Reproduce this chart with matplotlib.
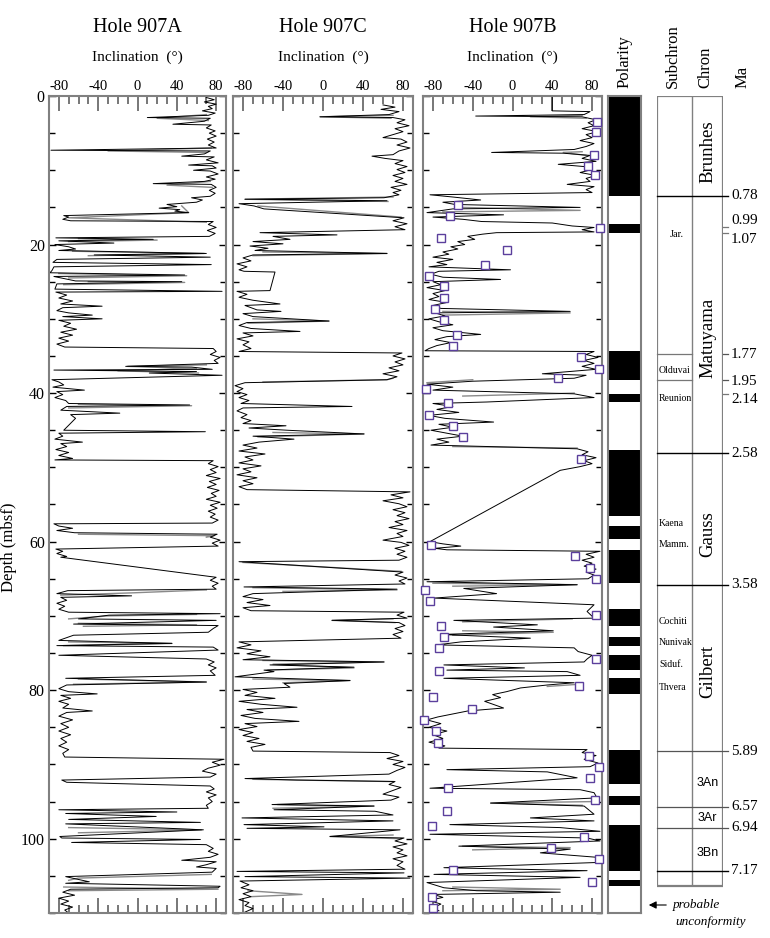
import numpy as np
import matplotlib
matplotlib.use('Agg')
import matplotlib.pyplot as plt

plt.rcParams['font.family'] = ['Liberation Serif', 'DejaVu Serif']
plt.rcParams['axes.unicode_minus'] = False

# inclination records (depth mbsf, inclination deg)
hole_a = [(0.2, 70), (0.5, 78), (0.8, 68), (1.1, 80), (1.4, 72), (1.7, 76), (2.0, 66), (2.3, 79), (2.6, 72),
          (2.9, 10), (3.0, 74), (3.4, 68), (3.8, 36), (3.9, 75), (4.3, 70), (4.7, 79), (5.0, 73), (5.4, 80),
          (5.8, 71), (6.2, 78), (6.6, 72), (7.0, 80), (7.3, -88), (7.4, 74), (7.8, 68), (8.1, 45), (8.2, 78),
          (8.6, 70), (9.0, 82), (9.3, 52), (9.4, 76), (9.7, 80), (10.0, 57), (10.1, 74), (10.5, 82), (10.9, 70),
          (11.2, 79), (11.5, 68), (11.8, 16), (11.9, 75), (12.3, 80), (12.7, 73), (13.1, 79), (13.5, 74),
          (13.7, 55), (14.0, 66), (14.3, 60), (14.6, 30), (14.9, 40), (15.1, 22), (15.3, 43), (15.5, 38),
          (15.7, 52), (16.1, -75), (16.3, -70), (16.6, -76), (16.8, -68), (16.9, 77), (17.3, 72), (17.7, 80),
          (18.1, 71), (18.5, 79), (18.9, 73), (19.1, -83), (19.3, 16), (19.5, -80), (19.8, -24), (20.0, -84),
          (20.3, -70), (20.6, -63), (20.8, -80), (21.2, 70), (21.4, -44), (21.7, 74), (22.0, -82), (22.4, -86),
          (22.7, 75), (23.0, -85), (23.5, -87), (23.8, -89), (24.1, 48), (24.3, -85), (24.9, -63), (25.0, 45),
          (25.3, -82), (26.0, -84), (26.3, 86), (26.4, -83), (26.8, -72), (27.2, -80), (27.6, -66), (28.0, -78),
          (28.3, -36), (28.5, -76), (28.9, -82), (29.2, -70), (29.5, -46), (29.7, -76), (30.0, -36), (30.2, -80),
          (30.6, -68), (31.0, -75), (31.4, -62), (31.8, -78), (32.2, -66), (32.6, -80), (33.0, -70), (33.4, -82),
          (33.8, -74), (34.0, 77), (34.4, 80), (34.8, 74), (35.2, 84), (35.6, 78), (36.0, 82), (36.4, -12),
          (36.5, 55), (36.8, 76), (36.9, -85), (37.1, 60), (37.3, 12), (37.6, 86), (38.2, -87), (38.5, -80),
          (38.9, -75), (39.2, -86), (39.6, -54), (39.8, -82), (40.2, -76), (40.6, -84), (41.0, -73), (41.4, -70),
          (41.6, 53), (41.8, -72), (42.3, -78), (42.7, -18), (42.9, -68), (43.4, -63), (45.0, -75), (45.2, 69),
          (45.4, -80), (45.8, -76), (46.2, -84), (46.6, -56), (46.8, -78), (47.2, -72), (47.6, -83), (48.0, -70),
          (48.4, -80), (48.8, -66), (49.0, -84), (49.1, 77), (49.5, 72), (49.9, 82), (50.3, 74), (50.7, 80),
          (51.1, 70), (51.5, 84), (51.9, 73), (52.3, 80), (52.7, 71), (53.1, 83), (53.5, 75), (53.9, 80),
          (54.3, 70), (54.7, 84), (55.1, 74), (55.5, 81), (55.9, 72), (56.3, 79), (56.7, 74), (57.1, 82),
          (57.5, 76), (57.6, -85), (57.9, -80), (58.2, -66), (58.5, -82), (58.8, -64), (59.0, 81), (59.4, 74),
          (59.8, 84), (60.2, 76), (60.6, 82), (61.0, -83), (61.3, -76), (61.6, -82), (62.0, -72), (62.1, -78),
          (64.8, 80), (65.2, 74), (65.6, 82), (66.0, 76), (66.4, 80), (66.6, -71), (67.0, -82), (67.3, -6),
          (67.5, -78), (67.9, -72), (68.3, -82), (68.7, -74), (69.1, -80), (69.5, -70), (69.7, 84), (69.9, -29),
          (70.4, -60), (70.6, 80), (71.1, -65), (71.3, 82), (71.7, 77), (72.2, 72), (72.6, -65), (73.3, -80),
          (73.7, 35), (74.0, -82), (74.2, 77), (74.6, 82), (75.3, -80), (75.8, 70), (76.2, 78), (76.6, 72),
          (77.0, 80), (77.4, 74), (78.0, 79), (78.4, -73), (78.9, 70), (79.3, -72), (79.8, -80), (80.2, -70),
          (80.5, -41), (80.7, -78), (81.1, -68), (81.5, -80), (81.9, -70), (82.4, -76), (82.8, -46), (83.0, -72),
          (83.5, -80), (84.0, -66), (84.5, -78), (85.0, -70), (85.5, -80), (86.0, -68), (86.5, -78), (87.0, -72),
          (87.5, -80), (88.0, -70), (88.5, -76), (89.0, -74), (89.3, 88), (89.7, 76), (90.1, 84), (90.5, 72),
          (90.9, 66), (91.3, 80), (91.7, 74), (92.1, -77), (92.4, -72), (92.9, 74), (93.3, 78), (93.7, 70),
          (94.1, 80), (94.5, 72), (95.0, 76), (95.5, 70), (95.9, 72), (96.1, -80), (96.4, 40), (96.6, -73),
          (97.0, 19), (97.4, -70), (97.8, 64), (98.0, -73), (98.8, 67), (99.7, -79), (99.9, -77), (100.1, 64),
          (100.5, -67), (100.8, 70), (101.3, 77), (101.7, 72), (102.1, 82), (102.5, 74), (102.9, 45), (103.1, 80),
          (103.5, 70), (103.8, 60), (104.0, 80), (104.5, 76), (105.1, -73), (105.4, -63), (105.8, -49), (106.0, -73),
          (106.4, 84), (106.6, 82), (106.8, -68), (107.2, -76), (107.6, -64), (108.0, -80), (108.4, -70),
          (108.8, -78), (109.2, -66), (109.6, -74), (110.0, -70)]

hole_c = [(1.2, 60), (1.5, 72), (1.8, 58), (2.1, 76), (2.5, 66), (2.8, -3), (2.9, 70), (3.2, 82), (3.6, 74),
          (4.0, 86), (4.4, 72), (4.8, 80), (5.2, 70), (5.6, 60), (5.8, 78), (6.2, 84), (6.6, 74), (7.0, 87),
          (7.4, 76), (7.9, 70), (8.1, 49), (8.4, 62), (8.7, 80), (9.1, 72), (9.5, 84), (9.9, 74), (10.3, 82),
          (10.7, 70), (11.1, 80), (11.5, 72), (11.9, 84), (12.3, 68), (12.7, 78), (13.0, 70), (13.3, 76),
          (13.7, 61), (13.9, -78), (14.1, 64), (14.5, -84), (14.8, -69), (15.2, -59), (16.4, 81), (16.8, 70),
          (17.2, 84), (17.6, 72), (18.0, 82), (18.4, -63), (18.7, 14), (18.9, -50), (19.3, -33), (19.6, -70),
          (19.9, -40), (20.2, -73), (20.5, -55), (20.8, -68), (21.2, 64), (21.4, -70), (21.8, -80), (22.2, -72),
          (22.6, -86), (23.0, -76), (23.4, -84), (23.6, -79), (23.7, -48), (26.2, -53), (26.3, -86), (26.7, -76),
          (27.1, -84), (27.5, -70), (28.0, -43), (28.2, -78), (28.8, -66), (29.0, -42), (29.3, -80), (29.7, -70),
          (30.3, 6), (30.5, -76), (30.9, -84), (31.3, -72), (31.7, -23), (31.9, -80), (32.3, -70), (32.7, -86),
          (33.1, -74), (33.5, -80), (34.0, -72), (34.4, -84), (34.6, 79), (35.0, 70), (35.4, 82), (35.8, 72),
          (36.2, 80), (36.6, 66), (37.0, 76), (37.4, 60), (37.8, 74), (38.2, 64), (38.6, -78), (39.0, -88),
          (39.4, -80), (39.8, -86), (40.2, -76), (40.6, -84), (41.0, -74), (41.4, -82), (41.8, 29), (42.0, -80),
          (42.4, -86), (42.9, -76), (43.3, -82), (43.7, -72), (44.1, -80), (44.4, -37), (44.7, -74), (45.0, -36),
          (45.5, 41), (45.8, -70), (46.2, -29), (46.6, -64), (47.0, -80), (47.4, -66), (47.8, -84), (48.2, -58),
          (48.6, -78), (49.0, -70), (49.4, -84), (49.8, -62), (50.2, -80), (50.6, -72), (51.0, -86), (51.4, -66),
          (51.8, -80), (52.2, -70), (52.6, -84), (53.0, -76), (53.3, 87), (53.7, 68), (54.1, 80), (54.5, 60),
          (54.9, 76), (55.3, 84), (55.7, 70), (56.1, 82), (56.5, 74), (56.9, 86), (57.3, 72), (57.7, 80),
          (58.1, 66), (58.5, 84), (58.9, 74), (59.3, 80), (59.8, 60), (60.1, 78), (60.5, 86), (60.9, 72),
          (61.3, 82), (61.7, 74), (62.1, 84), (62.5, 76), (62.7, -84), (64.1, 80), (64.5, 72), (64.9, 84),
          (65.3, 76), (65.7, 82), (66.1, -79), (66.4, 74), (66.8, -24), (67.0, -70), (67.4, -80), (67.8, -60),
          (68.2, -76), (68.6, -53), (68.9, -80), (69.3, -72), (69.5, 81), (69.9, 74), (70.3, 84), (70.6, 9),
          (70.9, 76), (71.3, 82), (71.7, 72), (72.1, 80), (72.5, 70), (73.0, 78), (73.5, -84), (73.9, -72),
          (74.3, -86), (74.7, -62), (75.1, -76), (75.5, -53), (75.9, -80), (76.2, 61), (76.6, -53), (76.9, 31),
          (77.3, -59), (77.5, -49), (78.2, -88), (78.7, 27), (79.1, -39), (79.6, -33), (79.9, -80), (80.3, -66),
          (80.7, -78), (81.1, -48), (81.5, -84), (81.9, -62), (82.3, -26), (82.6, -76), (83.0, -60), (83.4, -82),
          (83.8, -68), (84.2, -24), (84.5, -78), (84.9, -66), (85.3, -84), (85.7, -70), (86.1, -80), (86.5, -64),
          (86.9, -76), (87.3, -58), (87.7, -72), (88.2, -70), (88.4, 67), (88.8, 76), (89.2, 64), (89.6, 80),
          (90.0, 70), (90.4, 82), (90.8, 74), (91.3, 66), (91.9, -78), (92.1, -26), (92.3, 72), (92.7, 66),
          (93.1, 78), (93.5, 70), (94.0, 60), (94.4, 76), (94.8, 68), (95.4, -51), (95.6, 51), (96.1, -49),
          (96.3, 52), (96.8, 70), (97.2, -81), (97.6, 70), (98.1, -79), (98.4, 1), (98.6, -76), (98.8, 77),
          (99.7, 7), (99.9, 81), (100.3, 72), (100.7, 84), (101.1, 70), (101.5, 80), (101.9, 74), (102.3, 84),
          (102.7, 70), (103.1, 80), (103.6, 74), (104.1, 82), (104.4, -86), (104.6, 81), (105.1, -78), (105.3, 87),
          (105.7, -83), (106.2, -74), (106.6, -82), (107.0, -70), (107.4, -80), (107.8, -72), (108.2, -84),
          (108.6, -74), (109.0, -78), (109.4, -70), (110.0, -80)]

hole_b = [(0.0, 40), (2.0, 40), (2.1, 78), (2.5, 72), (2.7, -37), (2.8, 70), (3.2, 84), (3.6, 76), (4.0, 82),
          (4.4, 70), (4.8, 86), (5.2, 74), (5.6, 80), (6.0, 68), (6.4, 82), (6.8, 74), (7.2, 62), (7.6, -21),
          (7.7, 51), (8.0, 78), (8.4, 70), (8.8, 84), (9.2, 46), (9.5, 72), (9.9, 80), (10.3, 68), (10.7, 84),
          (11.1, 74), (11.5, 78), (11.9, 55), (12.2, 82), (12.6, 74), (13.0, 80), (13.3, -83), (13.6, -60),
          (14.0, -32), (14.3, -70), (14.6, -58), (15.0, 68), (15.2, -60), (15.7, -86), (16.0, -9), (16.3, -80),
          (16.6, -50), (16.9, -31), (17.1, 40), (17.5, 60), (17.7, 82), (18.0, 70), (18.3, 82), (18.4, -16),
          (18.6, -30), (18.9, -45), (19.3, -38), (19.6, -55), (20.0, -48), (20.3, -62), (20.6, -55), (21.0, -70),
          (21.3, -64), (21.7, -80), (22.0, -60), (22.4, -76), (22.7, -66), (23.0, -84), (23.4, -2), (23.6, -74),
          (24.0, -82), (24.4, -70), (24.7, -12), (25.0, -80), (25.4, -72), (25.8, -86), (26.2, -68), (26.6, -80),
          (27.0, -74), (27.4, -84), (27.8, -66), (28.2, -80), (28.6, -72), (29.0, 58), (29.2, -78), (29.6, -68),
          (30.0, -84), (30.4, -74), (30.8, -60), (31.2, -80), (31.6, -70), (32.1, -32), (32.4, -66), (32.8, -78),
          (33.2, -62), (33.6, -76), (34.0, -84), (34.3, -88), (34.4, 82), (34.8, 74), (35.2, 86), (35.6, 72),
          (36.0, 82), (36.4, 70), (36.8, 84), (37.4, 30), (37.6, 74), (38.0, 62), (38.4, -40), (38.8, -86),
          (39.2, -60), (39.6, -80), (40.1, 62), (40.6, 82), (41.2, -26), (41.4, -80), (41.8, -60), (42.2, -76),
          (42.6, -54), (43.0, -84), (43.4, -68), (43.9, -19), (44.2, -74), (44.6, -60), (45.0, -82), (45.4, -66),
          (45.8, -50), (46.2, -76), (46.6, -64), (47.0, -82), (47.5, 65), (47.9, 76), (48.3, 70), (48.7, 84),
          (49.1, 72), (49.5, 80), (49.9, 68), (50.4, 48), (60.0, -83), (60.3, -70), (60.6, -52), (60.9, -78),
          (61.1, -66), (61.3, 88), (61.7, 74), (62.1, 82), (62.5, 70), (62.9, 80), (63.3, 72), (63.7, 84),
          (64.1, 74), (64.5, 82), (65.0, 76), (65.4, -86), (65.8, 65), (66.3, -49), (67.0, -16), (67.6, -79),
          (68.5, 82), (69.4, 75), (70.3, 82), (70.6, -59), (71.2, 25), (71.5, -19), (72.0, 41), (72.5, -72),
          (73.0, 18), (73.5, -52), (73.9, -76), (74.3, 62), (74.8, 66), (75.3, 80), (75.8, 75), (76.2, 72),
          (76.6, -69), (77.0, 12), (77.3, -66), (77.5, 55), (78.0, 68), (78.4, -69), (79.0, 62), (79.3, 35),
          (79.7, 8), (80.2, -6), (80.6, -20), (81.0, -12), (81.5, -28), (82.4, -9), (82.8, -45), (83.2, -60),
          (83.6, -75), (84.0, -86), (84.5, -72), (85.0, -84), (85.5, -66), (86.0, -80), (86.5, -70), (87.0, -84),
          (87.5, -68), (87.8, -74), (88.0, 75), (88.4, 70), (88.8, 84), (89.3, 72), (89.8, 86), (90.3, 78),
          (90.7, -66), (91.0, 35), (91.8, 65), (92.5, -9), (93.2, -83), (93.4, 68), (93.8, 82), (94.5, 85),
          (95.2, -22), (95.6, 72), (96.7, 82), (97.2, 18), (97.6, 82), (98.1, -63), (98.5, 48), (99.0, 88),
          (99.4, -83), (99.9, 75), (100.3, 88), (101.0, -54), (101.4, 58), (101.9, 28), (102.5, 85), (103.2, 85),
          (103.9, -69), (104.3, 75), (104.8, -79), (105.2, 68), (105.9, -86), (106.6, -69), (107.0, -36),
          (107.2, 48), (107.5, -79), (107.9, -70), (108.3, -84), (108.8, -72), (109.3, -80), (109.7, -74)]

# second (grey) measurement: short runs, mostly the long excursions
grey_a = [[(2.5, 70), (3.0, 20), (3.3, 72)], [(7.0, 75), (7.4, -30), (7.6, 70)],
          [(11.5, 74), (12.0, 30), (12.3, 76)], [(14.8, 45), (15.7, 52), (16.4, -70), (17.0, 70)],
          [(19.2, -60), (19.4, 20), (19.6, -70)], [(20.9, -66), (21.2, 68), (21.5, -50)],
          [(23.9, -80), (24.2, 50), (24.5, -70)], [(25.0, -50), (25.1, 48), (25.4, -75)],
          [(36.2, 70), (36.4, -10), (36.7, 60), (37.0, -20), (37.3, 62)], [(41.5, -60), (41.7, 55), (42.0, -70)],
          [(59.0, -60), (59.2, 78), (59.4, 70)], [(66.5, 70), (66.9, -6), (67.2, -78)],
          [(69.8, 60), (70.0, -30), (70.4, -70)], [(71.0, -60), (71.2, 60), (71.4, -55)],
          [(73.5, -70), (73.7, 35), (74.0, -75)], [(78.5, -60), (78.9, 70), (79.2, -65)],
          [(98.5, -70), (98.8, 65), (99.2, -60)], [(104.8, 75), (105.3, -60), (105.6, -70)],
          [(106.5, -75), (106.8, 82), (107.0, -70)]]
grey_c = [[(2.6, 70), (2.8, -3), (3.0, 68)], [(13.6, 70), (13.9, -78), (14.2, 65)], [(14.8, -65), (16.3, 78)],
          [(21.0, -60), (21.2, 64), (21.5, -70)], [(30.0, -70), (30.3, 6), (30.6, -75)],
          [(38.0, 70), (38.2, 64), (38.5, -60)], [(45.3, -50), (45.5, 41), (45.9, -65)],
          [(62.8, -80), (64.0, 78)], [(66.2, -70), (66.5, 74), (66.7, -40)], [(70.4, 70), (70.6, 9), (70.9, 72)],
          [(76.0, -60), (76.2, 61), (76.5, -50), (77.0, 31), (77.3, -55)], [(78.5, -70), (78.7, 27), (79.0, -40)],
          [(92.0, -70), (92.1, -26), (92.3, 70)], [(95.4, -45), (95.6, 51), (95.9, -50)],
          [(99.5, 70), (99.7, 7), (100.0, 78)], [(107.0, -75), (107.5, -21), (107.8, -72)]]
grey_b = [[(2.6, 70), (2.8, 18), (3.0, 74)], [(7.5, 70), (7.6, 51), (8.0, 74)],
          [(15.0, -50), (15.4, 68), (15.6, -70)], [(29.0, -70), (29.2, 58), (29.5, -70)],
          [(38.2, -40), (38.6, -86)], [(40.0, 62), (40.4, -50)], [(47.2, -60), (47.4, 65)],
          [(65.6, -80), (65.8, 65), (66.0, -60)], [(70.4, 60), (70.8, -50)], [(72.0, -50), (72.2, 41), (72.6, -60)],
          [(79.2, 67), (79.5, 35)], [(95.0, 80), (95.2, -22), (95.5, 70)], [(101.0, -50), (101.2, 58), (101.5, -40)],
          [(106.5, -60), (106.8, 48), (107.0, -70)]]

# discrete samples, hole 907B
vgp_b = [(3.5, 85), (4.9, 83.5), (8.0, 82), (9.4, 76), (10.6, 83), (14.7, -55), (16.2, -62.5), (17.8, 87.5),
         (19.1, -72), (20.8, -6), (22.7, -28), (24.2, -84), (25.6, -69), (27.2, -69), (28.7, -78), (30.2, -68.5),
         (32.2, -56), (33.7, -60), (35.2, 69), (36.7, 87), (38.0, 46), (39.4, -87), (41.4, -65), (42.9, -84),
         (44.4, -60), (45.9, -50), (48.9, 69), (60.5, -82), (62.0, 63), (63.5, 78), (65.0, 84), (66.5, -88),
         (68.0, -83), (69.9, 84), (71.3, -72), (72.8, -69), (74.3, -74), (75.8, 84), (77.4, -74), (79.5, 67),
         (80.9, -80), (82.5, -41), (84.0, -89), (85.5, -77), (87.1, -75), (88.8, 77), (90.3, 87), (91.8, 78),
         (93.2, -65), (94.8, 83), (96.3, -65.5), (98.3, -81), (99.8, 71.5), (101.2, 39), (102.7, 87),
         (104.2, -59.5), (105.8, 80), (107.8, -81), (109.3, -80)]

# normal polarity intervals (depth top, depth bottom)
normal_top = [0, 17.2, 34.4, 40.1, 47.7, 57.9, 61.1, 69.1, 72.9, 75.2, 78.3, 88.1, 94.2, 98.1, 105.6]
normal_bot = [13.5, 18.5, 38.3, 41.2, 56.6, 59.6, 65.6, 71.3, 74.1, 77.3, 80.5, 92.6, 95.4, 104.4, 106.3]

# time scale: age (Ma), depth of boundary, kind
ma_ages = ['0.78', '0.99', '1.07', '1.77', '1.95', '2.14', '2.58', '3.58', '5.89', '6.57', '6.94', '7.17']
ma_depth = [13.4, 17.6, 18.5, 34.8, 38.2, 40.1, 48.1, 65.8, 88.2, 95.7, 98.5, 104.3]
ma_label_depth = [13.4, 16.7, 19.3, 34.8, 38.4, 40.9, 48.1, 65.8, 88.2, 95.7, 98.5, 104.3]
ma_kind = ['chron', 'tick', 'tick', 'sub', 'sub', 'tick', 'chron', 'chron', 'grey', 'grey', 'grey', 'chron']
box_bottom = 106.3

chron_names = ['Brunhes', 'Matuyama', 'Gauss', 'Gilbert']
chron_depth = [7.5, 32.5, 59.0, 77.5]
subchron_names = ['Olduvai', 'Reunion', 'Kaena', 'Mamm.', 'Cochiti', 'Nunivak', 'Siduf.', 'Thvera']
subchron_depth = [36.9, 40.7, 57.5, 60.4, 70.8, 73.6, 76.6, 79.6]
anom_names = ['3An', '3Ar', '3Bn']
anom_depth = [92.5, 97.2, 101.9]

W, H = 770, 938
TOP, BOT = 96, 913
frame_col = '#808080'

fig = plt.figure(figsize=(W / 100, H / 100), dpi=100)


def px_axes(x0, x1, y0, y1):
    return fig.add_axes([x0 / W, 1 - y1 / H, (x1 - x0) / W, (y1 - y0) / H])


def incl_panel(x0, x1, title, rec, grey, left_labels):
    ax = px_axes(x0, x1, TOP, BOT)
    for run in grey:
        g = np.array(run)
        ax.plot(g[:, 1], g[:, 0], color='#8a8a8a', lw=1.0)
    r = np.array(rec)
    ax.plot(r[:, 1], r[:, 0], color='black', lw=0.7)
    ax.set_xlim(-90, 90)
    ax.set_ylim(110, 0)
    ax.set_xticks([-80, -40, 0, 40, 80])
    ax.set_xticks(np.arange(-80, 81, 10), minor=True)
    ax.set_yticks(np.arange(0, 111, 20))
    ax.set_yticks(np.arange(0, 111, 5), minor=True)
    ax.tick_params(axis='x', which='both', direction='in', top=True, bottom=True,
                   labeltop=True, labelbottom=False, labelsize=10.5, pad=2, color='#606060', width=1.2)
    ax.tick_params(axis='x', which='major', length=11)
    ax.tick_params(axis='x', which='minor', length=6)
    ax.tick_params(axis='y', which='both', direction='in', left=True, right=True,
                   labelleft=left_labels, labelsize=11.5, pad=3, color='black', width=1)
    ax.tick_params(axis='y', which='major', length=5)
    ax.tick_params(axis='y', which='minor', length=4)
    for s in ax.spines.values():
        s.set_color(frame_col)
        s.set_linewidth(1.5)
    xc = (x0 + x1) / 2 / W
    fig.text(xc, 1 - 28 / H, title, ha='center', va='center', fontsize=14.5)
    fig.text(xc, 1 - 57 / H, 'Inclination  (°)', ha='center', va='center', fontsize=11)
    return ax


ax_a = incl_panel(49, 226, 'Hole 907A', hole_a, grey_a, True)
ax_a.set_ylabel('Depth (mbsf)', fontsize=12)
ax_a.yaxis.set_label_coords(-0.18, 0.448)
ax_c = incl_panel(233, 413, 'Hole 907C', hole_c, grey_c, False)
ax_b = incl_panel(423, 602, 'Hole 907B', hole_b, grey_b, False)
v = np.array(vgp_b)
ax_b.plot(v[:, 1], v[:, 0], 's', ms=5.5, mfc='white', mec='#5b3f9c', mew=1.0, clip_on=False, zorder=5)

# polarity column
ax_p = px_axes(608, 641, TOP, BOT)
ax_p.set_xlim(0, 1)
ax_p.set_ylim(110, 0)
for t, b in zip(normal_top, normal_bot):
    ax_p.axhspan(t, b, color='black', lw=0)
ax_p.set_xticks([])
ax_p.set_yticks([])
for s in ax_p.spines.values():
    s.set_color(frame_col)
    s.set_linewidth(1.5)

# chron / subchron column
ax_t = px_axes(657, 723, TOP, BOT)
ax_t.set_xlim(0, 1)
ax_t.set_ylim(110, 0)
ax_t.axis('off')
div = 0.53
ax_t.vlines([div], 0, box_bottom, color=frame_col, lw=1.0)
ax_t.vlines([0, 1], 0, box_bottom, color=frame_col, lw=1.6)
ax_t.hlines([0, box_bottom], 0, 1, color=frame_col, lw=1.6)
for lab, d, ld, k in zip(ma_ages, ma_depth, ma_label_depth, ma_kind):
    if k == 'chron':
        ax_t.plot([0, 1.08], [d, d], color='black', lw=1.0, clip_on=False)
    elif k == 'grey':
        ax_t.plot([0, 1.08], [d, d], color='#555555', lw=0.9, clip_on=False)
    elif k == 'sub':
        ax_t.plot([0, div], [d, d], color='#777777', lw=0.9, clip_on=False)
        ax_t.plot([1, 1.08], [d, d], color='#555555', lw=0.9, clip_on=False)
    else:
        ax_t.plot([1, 1.08], [d, d], color='#777777', lw=0.9, clip_on=False)
    ax_t.text(1.12, ld, lab, ha='left', va='center', fontsize=11, clip_on=False)

for n, d in zip(chron_names, chron_depth):
    ax_t.text(0.765, d, n, rotation=90, ha='center', va='center', fontsize=13.5)
ax_t.text(0.3, 18.6, 'Jar.', ha='center', va='center', fontsize=7.5)
for n, d in zip(subchron_names, subchron_depth):
    ax_t.text(0.03, d, n, ha='left', va='center', fontsize=7)
for n, d in zip(anom_names, anom_depth):
    ax_t.text(0.765, d, n, ha='center', va='center', fontsize=9, family='Liberation Sans')

# column headers
for txt, xp in [('Polarity', 625), ('Subchron', 673), ('Chron', 705), ('Ma', 743)]:
    fig.text(xp / W, 1 - 88 / H, txt, rotation=90, ha='center', va='bottom', fontsize=12)

# unconformity note
ax_t.annotate('', xy=(646 / W, 1 - 905 / H), xytext=(669 / W, 1 - 905 / H),
              xycoords='figure fraction', textcoords='figure fraction',
              arrowprops=dict(arrowstyle='-|>', color='black', lw=0.8, mutation_scale=11))
fig.text(673 / W, 1 - 905 / H, 'probable', style='italic', fontsize=9.5, ha='left', va='center')
fig.text(675 / W, 1 - 922 / H, 'unconformity', style='italic', fontsize=9.5, ha='left', va='center')

fig.savefig('out.png', dpi=100)
